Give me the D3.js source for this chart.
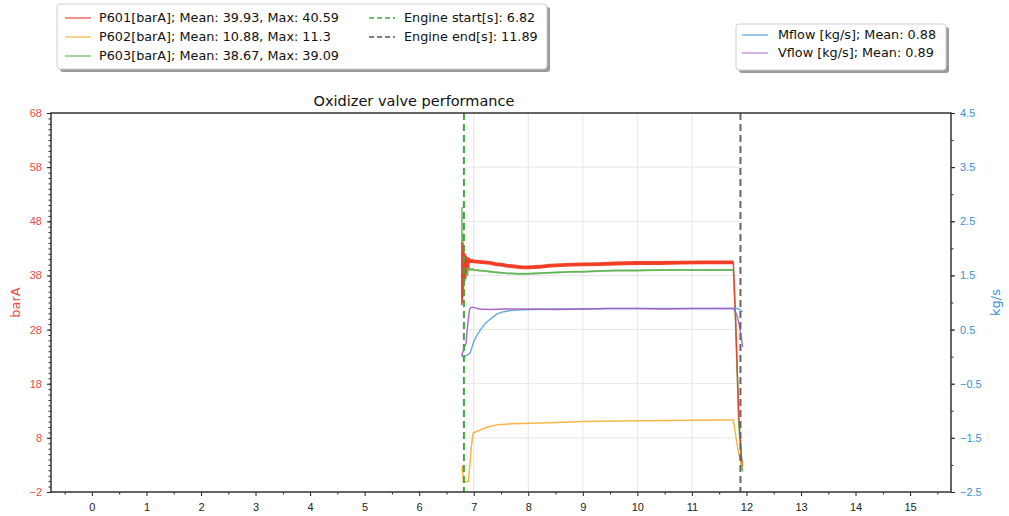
<!DOCTYPE html>
<html><head><meta charset="utf-8">
<script src="https://cdn.jsdelivr.net/npm/d3@7"></script>
<style>
body{margin:0;background:#fff;}
svg{display:block;font-family:"DejaVu Sans",sans-serif;}
</style></head>
<body><svg id="c" width="1009" height="516"></svg>
<script>
// ---- data ----
const title = "Oxidizer valve performance";
const xTicks = [0,1,2,3,4,5,6,7,8,9,10,11,12,13,14,15];
const leftTicks = [-2,8,18,28,38,48,58,68];
const rightTicks = [-2.5,-1.5,-0.5,0.5,1.5,2.5,3.5,4.5];
const gridX = [7,8,9,10,11];
const gridSpan = [6.79, 11.94];
const engineStart = 6.82;
const engineEnd = 11.89;
// steady (noisy) part of the run, drawn as a wider band
const steadySpan = [6.88, 11.76];

const p601T = [6.78,6.785,6.79,6.795,6.80,6.805,6.81,6.815,6.82,6.83,6.84,6.85,6.86,6.87,6.88,6.90,6.93,6.97,7.0,7.1,7.2,7.3,7.4,7.5,7.6,7.7,7.8,7.9,8.0,8.2,8.4,8.6,8.8,9.0,9.3,9.6,10.0,10.4,10.8,11.2,11.5,11.76,11.80,11.86,11.92];
const p601V = [32.5,44,33,43.5,34,43,35,42.5,36.5,42,37.5,41.8,38.5,41.5,39.5,41.0,40.6,40.7,40.6,40.5,40.4,40.3,40.1,40.0,39.8,39.7,39.6,39.5,39.5,39.6,39.8,39.9,40.0,40.05,40.1,40.2,40.3,40.3,40.35,40.4,40.4,40.4,30,12,2.8];

const p602T = [6.785,6.79,6.80,6.81,6.90,6.93,6.96,6.99,7.12,7.25,7.43,7.7,8.04,8.5,9.01,9.69,10.5,11.0,11.5,11.76,11.84,11.92];
const p602V = [1.8,2.8,1.5,-0.1,-0.1,3,6.7,8.9,9.45,10.0,10.4,10.6,10.7,10.85,11.0,11.1,11.2,11.25,11.3,11.3,6,2.3];

const p603T = [6.78,6.785,6.79,6.795,6.80,6.81,6.82,6.83,6.84,6.85,6.86,6.87,6.88,6.90,6.93,6.97,7.0,7.2,7.4,7.6,7.8,8.0,8.2,8.4,8.6,8.8,9.0,9.3,9.6,10.0,10.4,10.8,11.2,11.5,11.76,11.80,11.86,11.93];
const p603V = [36,50.5,34,46,35,44,36,42,37,41,37.5,40.5,38,39.8,39.0,39.2,39.0,38.8,38.6,38.4,38.3,38.3,38.4,38.5,38.6,38.7,38.7,38.8,38.9,38.9,39.0,39.0,39.0,39.0,39.0,30,10,1.8];

const mflowT = [6.78,6.79,6.82,6.86,6.90,6.94,6.99,7.05,7.12,7.2,7.25,7.35,7.43,7.55,7.67,7.8,8.04,8.5,9.0,9.5,10.0,10.5,11.0,11.5,11.76,11.85,11.93];
const mflowV = [0.05,0.0,0.0,0.02,0.04,0.08,0.25,0.38,0.49,0.6,0.65,0.73,0.79,0.83,0.85,0.86,0.87,0.88,0.88,0.89,0.89,0.89,0.89,0.89,0.89,0.89,0.83];

const vflowT = [6.78,6.79,6.81,6.86,6.88,6.92,6.94,7.0,7.1,7.3,7.6,8.0,8.5,9.0,9.5,10.0,10.5,11.0,11.5,11.76,11.82,11.86,11.89,11.93];
const vflowV = [0.02,0.05,0.12,0.25,0.5,0.85,0.91,0.91,0.88,0.87,0.88,0.88,0.87,0.88,0.89,0.89,0.88,0.89,0.89,0.89,0.78,0.62,0.45,0.18];

const leftLegend = [
  {label:"P601[barA]; Mean: 39.93, Max: 40.59", color:"#f26d63", dash:null},
  {label:"P602[barA]; Mean: 10.88, Max: 11.3", color:"#f8c460", dash:null},
  {label:"P603[barA]; Mean: 38.67, Max: 39.09", color:"#86c77a", dash:null},
  {label:"Engine start[s]: 6.82", color:"#3fa83f", dash:"5,3"},
  {label:"Engine end[s]: 11.89", color:"#555", dash:"5,3"}
];
const rightLegend = [
  {label:"Mflow [kg/s]; Mean: 0.88", color:"#7cb3e0"},
  {label:"Vflow [kg/s]; Mean: 0.89", color:"#c79ad6"}
];

// ---- drawing ----
const svg = d3.select("#c");
const L=51, R=951, T=113, B=492;
const x = d3.scaleLinear().domain([-0.75,15.75]).range([L,R]);
const yL = d3.scaleLinear().domain([-2,68]).range([B,T]);
const yR = d3.scaleLinear().domain([-2.5,4.5]).range([B,T]);

// grid
const g = svg.append("g");
g.selectAll("line.gx").data(gridX).join("line")
  .attr("x1",d=>x(d)).attr("x2",d=>x(d)).attr("y1",T).attr("y2",B)
  .attr("stroke","#e6e6e6").attr("stroke-width",1);
g.selectAll("line.gy").data(leftTicks.filter(d=>d>-2&&d<68)).join("line")
  .attr("x1",x(gridSpan[0])).attr("x2",x(gridSpan[1])).attr("y1",d=>yL(d)).attr("y2",d=>yL(d))
  .attr("stroke","#e6e6e6").attr("stroke-width",1);

function series(tArr,vArr,yS,color,w,op,span){
  let pts = tArr.map((t,i)=>[t,vArr[i]]);
  if(span) pts = pts.filter(d=>d[0]>=span[0]&&d[0]<=span[1]);
  svg.append("path").datum(pts)
    .attr("d", d3.line().x(d=>x(d[0])).y(d=>yS(d[1])))
    .attr("fill","none").attr("stroke",color).attr("stroke-width",w)
    .attr("stroke-opacity",op).attr("stroke-linejoin","round");
}
series(p603T,p603V,yL,"#5cb34f",1.5,0.9);
series(p603T,p603V,yL,"#5cb34f",2,0.6,steadySpan);
series(p601T,p601V,yL,"#f23a22",1.4,0.95);
series(p601T,p601V,yL,"#f23a22",3.8,0.95,steadySpan);
series(p602T,p602V,yL,"#f7b23b",1.5,0.95);
series(mflowT,mflowV,yR,"#5fa3dc",1.4,0.95);
series(vflowT,vflowV,yR,"#a75fc0",1.4,0.95);

// engine lines
svg.append("line").attr("x1",x(engineStart)).attr("x2",x(engineStart)).attr("y1",T).attr("y2",B)
  .attr("stroke","#3fa83f").attr("stroke-width",2).attr("stroke-dasharray","7,4");
svg.append("line").attr("x1",x(engineEnd)).attr("x2",x(engineEnd)).attr("y1",T).attr("y2",B)
  .attr("stroke","#666").attr("stroke-width",2).attr("stroke-dasharray","7,4");

// axes
const minorX = d3.range(-0.5,15.75,1);
const xAx = svg.append("g").attr("transform",`translate(0,${B})`)
  .call(d3.axisBottom(x).tickValues(xTicks).tickFormat(d3.format("d")).tickSize(4).tickPadding(7));
svg.append("g").attr("transform",`translate(0,${B})`)
  .call(d3.axisBottom(x).tickValues(minorX).tickFormat("").tickSize(2.5))
  .select(".domain").remove();

const yAx = svg.append("g").attr("transform",`translate(${L},0)`)
  .call(d3.axisLeft(yL).tickValues(leftTicks).tickFormat(d3.format("d")).tickSize(4).tickPadding(5));
svg.append("g").attr("transform",`translate(${L},0)`)
  .call(d3.axisLeft(yL).tickValues(d3.range(-2,68.5,1)).tickFormat("").tickSize(2.5))
  .select(".domain").remove();

const yAxR = svg.append("g").attr("transform",`translate(${R},0)`)
  .call(d3.axisRight(yR).tickValues(rightTicks).tickFormat(d3.format(".1f")).tickSize(4).tickPadding(5));
svg.append("g").attr("transform",`translate(${R},0)`)
  .call(d3.axisRight(yR).tickValues(d3.range(-2.5,4.6,0.5)).tickFormat("").tickSize(2.5))
  .select(".domain").remove();

svg.selectAll(".tick line").attr("stroke","#222");
xAx.selectAll("text").attr("font-size",11).attr("fill","#222");
yAx.selectAll("text").attr("font-size",11).attr("fill","#ec4a45");
yAxR.selectAll("text").attr("font-size",11).attr("fill","#3d8fd1");
svg.selectAll(".domain").attr("stroke","none");

// frame
svg.append("rect").attr("x",L).attr("y",T).attr("width",R-L).attr("height",B-T)
  .attr("fill","none").attr("stroke","#333").attr("stroke-width",1.5);

// titles
svg.append("text").attr("x",414).attr("y",106).attr("text-anchor","middle")
  .attr("font-size",14.5).attr("fill","#111").text(title);
svg.append("text").attr("transform",`translate(20,${(T+B)/2}) rotate(-90)`)
  .attr("text-anchor","middle").attr("font-size",13).attr("fill","#ec4a45").text("barA");
svg.append("text").attr("transform",`translate(1000,${(T+B)/2}) rotate(-90)`)
  .attr("text-anchor","middle").attr("font-size",13).attr("fill","#3d8fd1").text("kg/s");

// legends
function legendBox(x0,y0,w,h){
  svg.append("rect").attr("x",x0+3).attr("y",y0+3).attr("width",w).attr("height",h)
    .attr("rx",3).attr("fill","#9a9a9a");
  svg.append("rect").attr("x",x0).attr("y",y0).attr("width",w).attr("height",h)
    .attr("rx",3).attr("fill","#fff").attr("stroke","#cfcfcf").attr("stroke-width",1);
}
legendBox(57,4,490,65);
const rowsY = [18,37,56];
leftLegend.forEach((d,i)=>{
  const col = i<3?0:1, row = i<3?i:i-3;
  const lx = col===0?65:369, tx = col===0?99:404;
  svg.append("line").attr("x1",lx).attr("x2",lx+26).attr("y1",rowsY[row]).attr("y2",rowsY[row])
    .attr("stroke",d.color).attr("stroke-width",1.5).attr("stroke-dasharray",d.dash);
  svg.append("text").attr("x",tx).attr("y",rowsY[row]).attr("dy","0.35em")
    .attr("font-size",12.8).attr("fill","#111").text(d.label);
});
legendBox(736,24,210,46);
const rowsY2 = [35,53];
rightLegend.forEach((d,i)=>{
  svg.append("line").attr("x1",742).attr("x2",768).attr("y1",rowsY2[i]).attr("y2",rowsY2[i])
    .attr("stroke",d.color).attr("stroke-width",1.5);
  svg.append("text").attr("x",778).attr("y",rowsY2[i]).attr("dy","0.35em")
    .attr("font-size",12.8).attr("fill","#111").text(d.label);
});
</script></body></html>
